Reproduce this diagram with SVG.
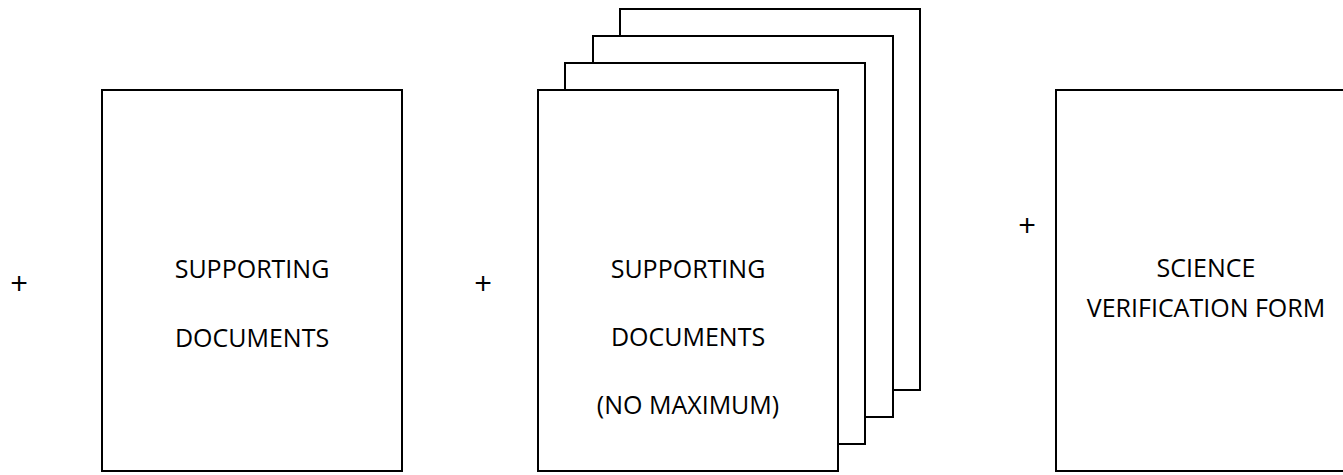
<svg xmlns="http://www.w3.org/2000/svg" width="1343" height="475" viewBox="0 0 1343 475">
<style>
.page{fill:#fff;stroke:#000;stroke-width:2}
.t{font-family:"Open Sans","Liberation Sans",sans-serif;font-size:25px;fill:#000;text-anchor:middle}
.p{font-family:"Open Sans","Liberation Sans",sans-serif;font-size:31px;fill:#000;text-anchor:middle}
</style>
<rect width="1343" height="475" fill="#fff"/>
<g id="plus1"><text class="p" x="19" y="295">+</text></g>
<g id="node-supporting"><rect class="page" x="102" y="90" width="300" height="381"/><text class="t" x="252" y="278">SUPPORTING</text><text class="t" x="252" y="347">DOCUMENTS</text></g>
<g id="plus2"><text class="p" x="483" y="295">+</text></g>
<g id="node-stack">
<rect class="page" x="620" y="9" width="300" height="381"/>
<rect class="page" x="593" y="36" width="300" height="381"/>
<rect class="page" x="565" y="63" width="300" height="381"/>
<rect class="page" x="538" y="90" width="300" height="381"/>
<text class="t" x="688" y="278">SUPPORTING</text><text class="t" x="688" y="346">DOCUMENTS</text><text class="t" x="688" y="414">(NO MAXIMUM)</text></g>
<g id="plus3"><text class="p" x="1027" y="237">+</text></g>
<g id="node-svf"><rect class="page" x="1056" y="90" width="300" height="381"/><text class="t" x="1206" y="277">SCIENCE</text><text class="t" x="1206" y="317">VERIFICATION FORM</text></g>
<g id="connectors"/>
</svg>
